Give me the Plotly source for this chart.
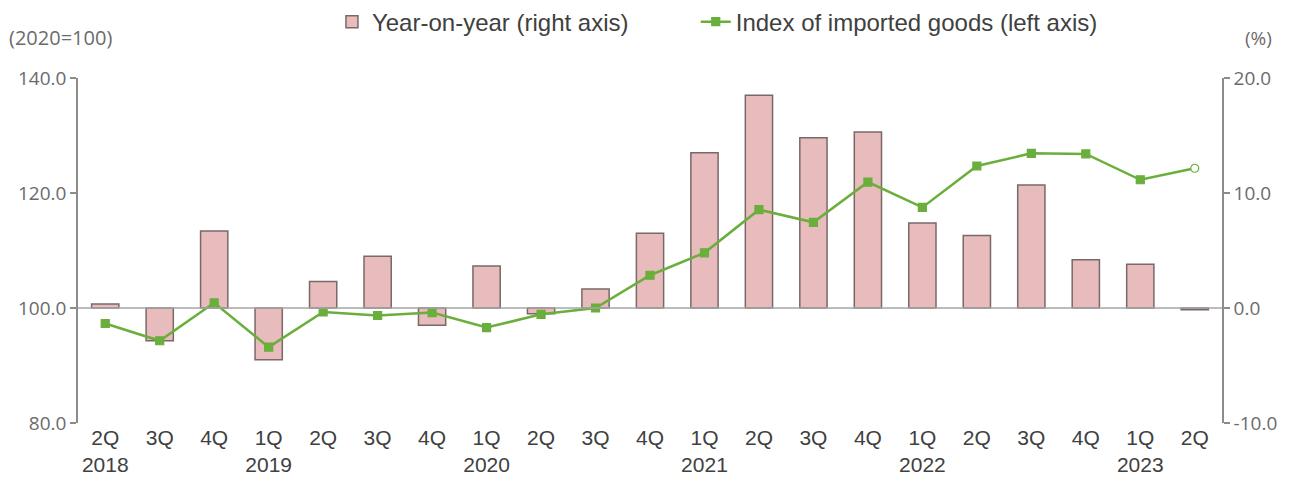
import plotly.graph_objects as go

quarters = ["2Q<br>2018", "3Q", "4Q", "1Q<br>2019", "2Q", "3Q", "4Q", "1Q<br>2020", "2Q", "3Q", "4Q",
            "1Q<br>2021", "2Q", "3Q", "4Q", "1Q<br>2022", "2Q", "3Q", "4Q", "1Q<br>2023", "2Q"]
cat_ids = list(range(len(quarters)))

yoy_pct = [0.35, -2.85, 6.7, -4.5, 2.3, 4.5, -1.5, 3.65, -0.5, 1.65, 6.5,
           13.5, 18.5, 14.8, 15.3, 7.4, 6.3, 10.7, 4.2, 3.8, -0.15]
import_index = [97.3, 94.3, 100.9, 93.2, 99.3, 98.7, 99.2, 96.6, 98.9, 100.0, 105.7,
                109.6, 117.1, 114.9, 121.9, 117.5, 124.7, 126.9, 126.8, 122.3, 124.3]

left_ticks = [80, 100, 120, 140]
right_ticks = [-10, 0, 10, 20]

GREEN = "#6aae3c"
AXIS = "#8c8c8c"
TXT = "#6b6b6b"
TICKFONT = "Open Sans, Liberation Sans, sans-serif"

n = len(import_index)
symbols = ["square"] * (n - 1) + ["circle"]
mcolors = [GREEN] * (n - 1) + ["white"]

fig = go.Figure()
fig.add_trace(go.Bar(
    x=cat_ids, y=yoy_pct, name="Year-on-year (right axis)",
    marker=dict(color="#e8bcbc", line=dict(color="#7a6868", width=1.5)),
    width=0.5, yaxis="y", legend="legend",
))
fig.add_trace(go.Scatter(
    x=cat_ids, y=import_index, name="Index of imported goods (left axis)",
    mode="lines+markers",
    line=dict(color=GREEN, width=2.5),
    marker=dict(symbol=symbols, size=8, color=mcolors, line=dict(color=GREEN, width=1.2)),
    yaxis="y2", legend="legend2",
))

fig.add_shape(type="line", xref="paper", yref="y", x0=0, x1=1, y0=0, y1=0,
              line=dict(color="#a6a6a6", width=1.5), layer="above")

legend_common = dict(orientation="h", xanchor="left", y=1.162, yanchor="middle",
                     font=dict(size=24, color="#404040"), bgcolor="rgba(0,0,0,0)")

# page body has an 8px default margin, so the figure is sized to fit the window
fig.update_layout(
    width=1290, height=471,
    margin=dict(l=70, r=76, t=70, b=56, autoexpand=False),
    paper_bgcolor="white", plot_bgcolor="white",
    font=dict(family="Liberation Sans, Arial, sans-serif", color="#404040", size=18),
    showlegend=True,
    legend=dict(x=0.222, **legend_common),
    legend2=dict(x=0.540, **legend_common),
    xaxis=dict(
        tickmode="array", tickvals=cat_ids, ticktext=quarters,
        range=[-0.5, n - 0.5], showline=False, ticks="", showgrid=False,
        tickfont=dict(size=21, color="#404040"), zeroline=False,
    ),
    yaxis=dict(
        side="right", range=[-10, 20], tickvals=right_ticks,
        ticktext=[f"{v:.1f}" for v in right_ticks],
        showgrid=False, zeroline=False, showline=True, linecolor=AXIS, linewidth=1.5,
        ticks="outside", ticklen=6, tickcolor=AXIS, tickwidth=1.5,
        tickfont=dict(size=19, color=TXT, family=TICKFONT),
    ),
    yaxis2=dict(
        side="left", overlaying="y", range=[80, 140], tickvals=left_ticks,
        ticktext=[f"{v:.1f}" for v in left_ticks],
        showgrid=False, zeroline=False, showline=True, linecolor=AXIS, linewidth=1.5,
        ticks="outside", ticklen=6, tickcolor=AXIS, tickwidth=1.5,
        tickfont=dict(size=19, color=TXT, family=TICKFONT),
    ),
    annotations=[
        dict(text="(2020=100)", xref="paper", yref="paper", x=-0.062, y=1.116,
             xanchor="left", yanchor="middle", showarrow=False,
             font=dict(size=20, color=TXT, family=TICKFONT)),
        dict(text="(%)", xref="paper", yref="paper", x=1.0184, y=1.116,
             xanchor="left", yanchor="middle", showarrow=False,
             font=dict(size=19, color=TXT, family=TICKFONT)),
    ],
)

fig.write_html("out.html")
